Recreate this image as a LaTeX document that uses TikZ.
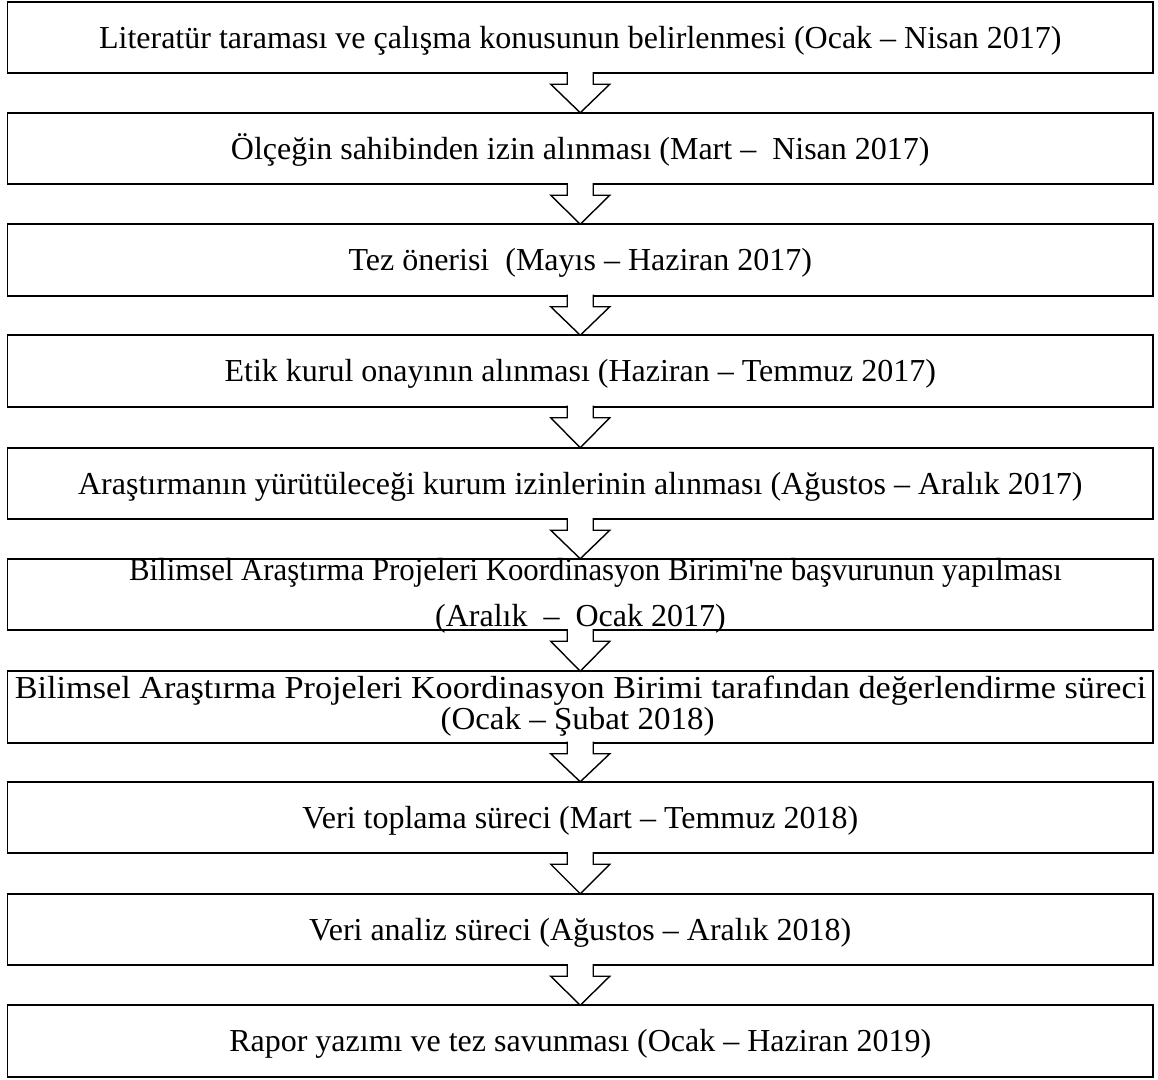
\documentclass[tikz,border=0pt]{standalone}
\usepackage{fontspec}
\setmainfont{Liberation Serif}
\usetikzlibrary{calc}
\tikzset{
  stagebox/.style={draw=black, line width=1.8pt, fill=white, minimum width=1145.5pt,
    minimum height=71.5pt, inner sep=0pt, outer sep=0pt, text height=21pt, text depth=0pt,
    font=\fontsize{32}{38}\selectfont},
  linetext/.style={anchor=base, inner sep=0pt, font=\fontsize{32}{38}\selectfont},
  blockarr/.style={draw=black, fill=white, line width=1.4pt, line join=miter}
}
\newcommand\stagearrow[2]{%
  \filldraw[blockarr] ($(#1.south)+(-13,-1.2)$) -- ($(#1.south)+(-13,11)$)
    -- ($(#1.south)+(-29.5,11)$) -- (#2.north) -- ($(#1.south)+(29.5,11)$)
    -- ($(#1.south)+(13,11)$) -- ($(#1.south)+(13,-1.2)$);}
\begin{document}
\begin{tikzpicture}[x=1pt,y=-1pt]
\useasboundingbox (0,0) rectangle (1158,1079);
\node[stagebox] (b1) at (580.25,37.5) {Literatür taraması ve çalışma konusunun belirlenmesi (Ocak – Nisan 2017)};
\node[stagebox] (b2) at (580.25,148.5) {Ölçeğin sahibinden izin alınması (Mart –\ \ Nisan 2017)};
\node[stagebox] (b3) at (580.25,260) {Tez önerisi\ \ (Mayıs – Haziran 2017)};
\node[stagebox] (b4) at (580.25,371) {Etik kurul onayının alınması (Haziran – Temmuz 2017)};
\node[stagebox] (b5) at (580.25,483.5) {Araştırmanın yürütüleceği kurum izinlerinin alınması (Ağustos – Aralık 2017)};
\node[stagebox] (b6) at (580.25,594.5) {};
\node[linetext] (t6a) at (595.5,580) {\scalebox{0.9625}[1]{Bilimsel Araştırma Projeleri Koordinasyon Birimi\textquotesingle ne başvurunun yapılması}};
\node[linetext] (t6b) at (580.5,626) {(Aralık\ \ –\ \ Ocak 2017)};
\node[stagebox] (b7) at (580.25,707) {};
\node[linetext] (t7a) at (580.5,698) {\scalebox{1.069}[1]{Bilimsel Araştırma Projeleri Koordinasyon Birimi tarafından değerlendirme süreci}};
\node[linetext] (t7b) at (577.5,729) {\scalebox{1.031}[1]{(Ocak – Şubat 2018)}};
\node[stagebox] (b8) at (580.25,817.5) {Veri toplama süreci (Mart – Temmuz 2018)};
\node[stagebox] (b9) at (580.25,929.5) {Veri analiz süreci (Ağustos – Aralık 2018)};
\node[stagebox] (b10) at (580.25,1041) {Rapor yazımı ve tez savunması (Ocak – Haziran 2019)};
\stagearrow{b1}{b2}
\stagearrow{b2}{b3}
\stagearrow{b3}{b4}
\stagearrow{b4}{b5}
\stagearrow{b5}{b6}
\stagearrow{b6}{b7}
\stagearrow{b7}{b8}
\stagearrow{b8}{b9}
\stagearrow{b9}{b10}
\end{tikzpicture}
\end{document}
